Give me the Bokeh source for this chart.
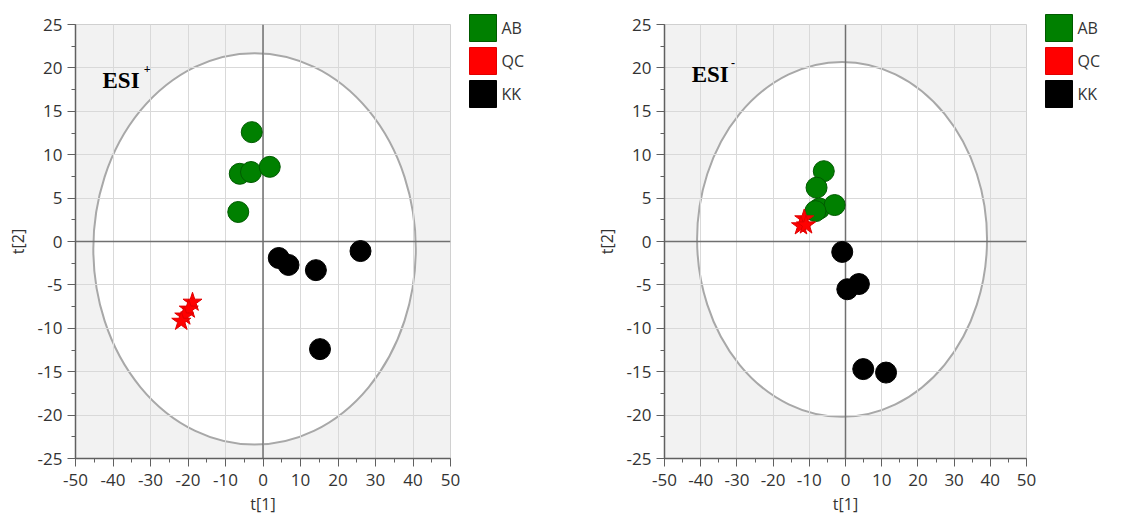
from bokeh.plotting import figure
from bokeh.layouts import row, column
from bokeh.models import (Range1d, FactorRange, SingleIntervalTicker, Span, Label,
                          CustomJSTickFormatter)
from bokeh.core.properties import value
from bokeh.embed import file_html
from bokeh.resources import INLINE

# ---------------- data ----------------
# ESI+ panel
pos_ab_x = [-3.0, -6.2, -3.2, 1.8, -6.6]
pos_ab_y = [12.6, 7.8, 8.0, 8.6, 3.4]
pos_qc_x = [-18.8, -19.8, -21.0, -21.8]
pos_qc_y = [-7.0, -7.8, -8.6, -9.2]
pos_kk_x = [4.2, 6.8, 14.1, 26.0, 15.2]
pos_kk_y = [-1.9, -2.7, -3.3, -1.1, -12.4]
pos_ellipse = dict(cx=-2.25, cy=-0.85, w=86.0, h=45.1)

# ESI- panel
neg_ab_x = [-6.0, -8.0, -7.2, -3.0, -8.3]
neg_ab_y = [8.1, 6.2, 3.8, 4.2, 3.5]
neg_qc_x = [-11.4, -12.3, -10.9]
neg_qc_y = [2.6, 1.8, 1.9]
neg_kk_x = [-0.9, 0.5, 3.7, 4.9, 11.2]
neg_kk_y = [-1.2, -5.5, -4.9, -14.7, -15.1]
neg_ellipse = dict(cx=-0.95, cy=0.25, w=80.1, h=40.9)

groups = ["AB", "QC", "KK"]
group_fill = ["#008000", "#ff0000", "#000000"]
group_line = ["#005a00", "#e00000", "#000000"]

x_range = (-50, 50)
y_range = (-25, 25)

FONT = "Open Sans"


def make_panel(title_sup, ab, qc, kk, ell, width, mbl, mbr, mbb, esi_xy, sup_xy):
    p = figure(width=width, height=524, output_backend="svg", toolbar_location=None,
               x_range=Range1d(*x_range), y_range=Range1d(*y_range),
               min_border_left=mbl, min_border_right=mbr, min_border_top=24,
               min_border_bottom=mbb, background_fill_color="#f2f2f2",
               border_fill_color="white", outline_line_color="#d0d0d0")

    # white Hotelling ellipse area (beneath grid)
    p.ellipse(x=[ell["cx"]], y=[ell["cy"]], width=[ell["w"]], height=[ell["h"]],
              fill_color="white", line_color="#a8a8a8", line_width=2, level="image")

    xt = SingleIntervalTicker(interval=10, num_minor_ticks=2)
    yt = SingleIntervalTicker(interval=5, num_minor_ticks=2)
    p.xaxis.ticker = xt
    p.yaxis.ticker = yt
    p.xgrid.ticker = xt
    p.ygrid.ticker = yt
    p.grid.grid_line_color = "#d9d9d9"
    p.grid.grid_line_width = 1

    for ax in (p.xaxis[0], p.yaxis[0]):
        ax.formatter = CustomJSTickFormatter(code="return tick.toFixed(0)")
        ax.axis_line_color = "#606060"
        ax.axis_line_width = 1.5
        ax.major_tick_line_color = "#606060"
        ax.minor_tick_line_color = "#606060"
        ax.major_tick_in = 0
        ax.major_tick_out = 8
        ax.minor_tick_in = 0
        ax.minor_tick_out = 4
        ax.major_label_text_font = FONT
        ax.major_label_text_font_size = "17px"
        ax.major_label_text_color = "#333333"
        ax.axis_label_text_font = FONT
        ax.axis_label_text_font_size = "16px"
        ax.axis_label_text_font_style = "normal"
        ax.axis_label_text_color = "#333333"
    p.xaxis.major_label_standoff = 7
    p.yaxis.major_label_standoff = 5
    p.xaxis.axis_label_standoff = 4
    p.yaxis.axis_label_standoff = 6
    p.xaxis.axis_label = "t[1]"
    p.yaxis.axis_label = "t[2]"

    # zero lines
    p.add_layout(Span(location=0, dimension="height", line_color="#707070",
                      line_width=1.5, level="underlay"))
    p.add_layout(Span(location=0, dimension="width", line_color="#707070",
                      line_width=1.5, level="underlay"))

    # points
    p.scatter(ab[0], ab[1], marker="circle", size=21, fill_color=group_fill[0],
              line_color=group_line[0], line_width=1)
    p.scatter(kk[0], kk[1], marker="circle", size=21, fill_color=group_fill[2],
              line_color=group_line[2], line_width=1)
    p.scatter(qc[0], qc[1], marker="star", size=20, fill_color=group_fill[1],
              line_color=group_line[1], line_width=1)

    # ESI annotation
    p.add_layout(Label(x=esi_xy[0], y=esi_xy[1], text="ESI", text_font="Liberation Serif",
                       text_font_style="bold", text_font_size="23px", text_color="black",
                       text_baseline="alphabetic"))
    p.add_layout(Label(x=sup_xy[0], y=sup_xy[1], text=title_sup,
                       text_font="Liberation Serif", text_font_style="bold",
                       text_font_size="12px", text_color="black", text_baseline="middle"))
    return p


# legend: a small categorical figure, one 33px band per group
LEG_W = 100
SWATCH_X = 22.5
LABEL_DX = 18.5


def make_legend():
    f = figure(width=LEG_W, height=110, output_backend="svg", toolbar_location=None,
               x_range=Range1d(0, LEG_W), y_range=FactorRange(factors=groups[::-1], range_padding=0),
               x_axis_type=None, y_axis_type=None, min_border_left=0, min_border_right=0,
               min_border_top=11, min_border_bottom=0,
               outline_line_color=None, background_fill_color="white",
               border_fill_color="white")
    f.grid.visible = False
    f.scatter(x=[SWATCH_X] * len(groups), y=groups, marker="square", size=27,
              fill_color=group_fill, line_color=group_line, line_width=1)
    f.text(x=[SWATCH_X] * len(groups), y=groups, text=groups, x_offset=LABEL_DX,
           text_baseline="middle", text_align="left", text_font=value(FONT),
           text_font_size="16px", text_color="#333333")
    return column(f)


p1 = make_panel("+", (pos_ab_x, pos_ab_y), (pos_qc_x, pos_qc_y), (pos_kk_x, pos_kk_y),
                pos_ellipse, width=460, mbl=75, mbr=10, mbb=64,
                esi_xy=(-42.8, 18.6), sup_xy=(-31.8, 19.9))
p2 = make_panel("-", (neg_ab_x, neg_ab_y), (neg_qc_x, neg_qc_y), (neg_kk_x, neg_kk_y),
                neg_ellipse, width=476, mbl=104, mbr=10, mbb=66,
                esi_xy=(-42.5, 19.2), sup_xy=(-31.6, 20.6))

layout = row(p1, make_legend(), p2, make_legend())
open("out.html", "w").write(file_html(layout, INLINE))
